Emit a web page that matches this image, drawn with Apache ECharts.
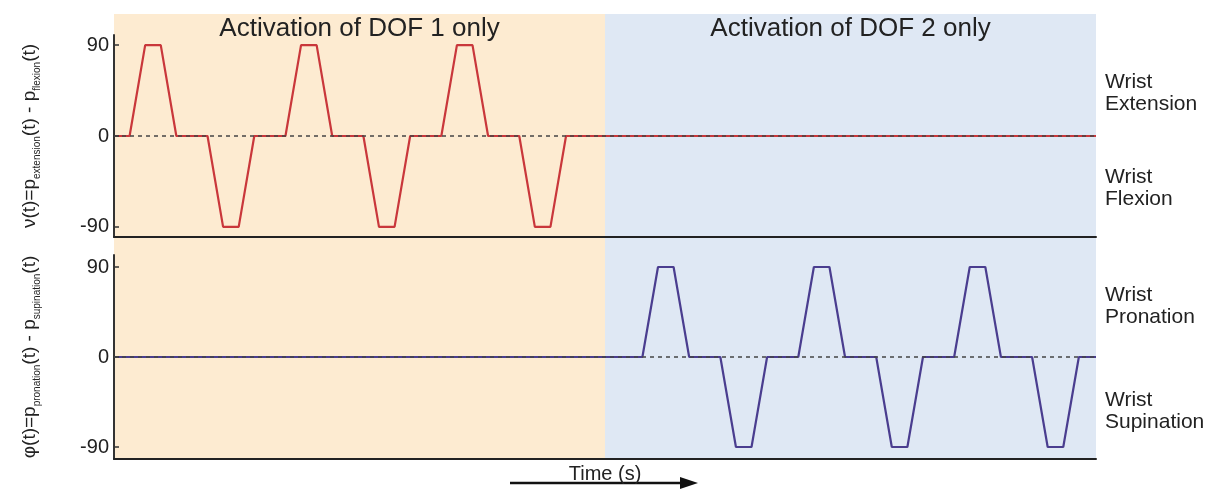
<!DOCTYPE html>
<html><head><meta charset="utf-8">
<script src="https://cdn.jsdelivr.net/npm/echarts@6/dist/echarts.min.js"></script>
<style>html,body{margin:0;padding:0;background:#fff}#c{width:1214px;height:489px}</style>
</head><body><div id="c"></div>
<script>
// ---- data ----
const timeMax = 63;
const phaseBounds = [0, 31.5, 63];
const phaseLabels = ['Activation of DOF 1 only', 'Activation of DOF 2 only'];
const phaseColors = ['#fdebd1', '#dfe8f4'];
const yTicks = [-90, 0, 90];
const dof1Time  = [0, 1, 2, 3, 4, 6, 7, 8, 9, 11, 12, 13, 14, 16, 17, 18, 19, 21, 22, 23, 24, 26, 27, 28, 29, 63];
const dof1Value = [0, 0, 90, 90, 0, 0, -90, -90, 0, 0, 90, 90, 0, 0, -90, -90, 0, 0, 90, 90, 0, 0, -90, -90, 0, 0];
const dof2Time  = [0, 33.9, 34.9, 35.9, 36.9, 38.9, 39.9, 40.9, 41.9, 43.9, 44.9, 45.9, 46.9, 48.9, 49.9, 50.9, 51.9, 53.9, 54.9, 55.9, 56.9, 58.9, 59.9, 60.9, 61.9, 63];
const dof2Value = [0, 0, 90, 90, 0, 0, -90, -90, 0, 0, 90, 90, 0, 0, -90, -90, 0, 0, 90, 90, 0, 0, -90, -90, 0, 0];
const rightLabelsTop = ['Wrist\nExtension', 'Wrist\nFlexion'];
const rightLabelsBottom = ['Wrist\nPronation', 'Wrist\nSupination'];
const xLabel = 'Time (s)';

const FF = '"Liberation Sans", Arial, sans-serif';
const zip = (a, b) => a.map((v, i) => [v, b[i]]);

const richName = {
  m: { fontSize: 19, fontFamily: FF, color: '#222', lineHeight: 24 },
  s: { fontSize: 10, fontFamily: FF, color: '#222', verticalAlign: 'bottom', lineHeight: 10 }
};

function yAxisFor(grid, lim, name) {
  return {
    gridIndex: grid, type: 'value', min: -lim, max: lim, z: 10,
    splitLine: { show: false },
    axisLine: { show: true, lineStyle: { color: '#333', width: 2 } },
    axisTick: { show: true, inside: true, length: 5, customValues: yTicks, lineStyle: { color: '#333', width: 1.5 } },
    axisLabel: { show: true, customValues: yTicks, margin: 5, fontSize: 20, fontFamily: FF, color: '#222' },
    name: name, nameLocation: 'middle', nameRotate: 90, nameGap: 72,
    nameTextStyle: { rich: richName }
  };
}
function xAxisFor(grid, show) {
  return {
    gridIndex: grid, type: 'value', min: 0, max: timeMax, z: 10,
    show: show,
    splitLine: { show: false },
    axisLine: { show: true, onZero: false, lineStyle: { color: '#222', width: 2 } },
    axisTick: { show: false }, axisLabel: { show: false }
  };
}
const zeroLine = {
  silent: true, symbol: 'none', z: 20, label: { show: false },
  lineStyle: { color: '#444', type: [4, 4], width: 1.5 },
  data: [{ yAxis: 0 }]
};

const option = {
  animation: false,
  backgroundColor: '#fff',
  grid: [
    { left: 114, right: 118, top: 14, bottom: 31 },
    { left: 114, right: 118, top: 35, height: 202 },
    { left: 114, right: 118, top: 255, height: 204 }
  ],
  xAxis: [
    xAxisFor(0, false),
    xAxisFor(1, true),
    Object.assign(xAxisFor(2, true), {
      name: xLabel, nameLocation: 'middle', nameGap: 5,
      nameTextStyle: { fontSize: 20, fontFamily: FF, color: '#222', verticalAlign: 'top' }
    })
  ],
  yAxis: [
    { gridIndex: 0, type: 'value', min: 0, max: 1, show: false },
    yAxisFor(1, 100, '{m|ν(t)=p}{s|extension}{m|(t) - p}{s|flexion}{m|(t)}'),
    yAxisFor(2, 102, '{m|φ(t)=p}{s|pronation}{m|(t) - p}{s|supination}{m|(t)}')
  ],
  series: [
    {
      type: 'line', xAxisIndex: 0, yAxisIndex: 0, data: [], silent: true, z: -10,
      markArea: {
        silent: true, z: -10,
        data: phaseLabels.map((lab, i) => [
          { xAxis: phaseBounds[i], name: lab, itemStyle: { color: phaseColors[i] } },
          { xAxis: phaseBounds[i + 1] }
        ]),
        label: { show: true, position: 'insideTop', distance: 2, fontSize: 26, fontFamily: FF, color: '#222' }
      }
    },
    {
      type: 'line', xAxisIndex: 1, yAxisIndex: 1, data: zip(dof1Time, dof1Value),
      symbol: 'none', lineStyle: { color: '#c9373b', width: 2.2 }, markLine: zeroLine
    },
    {
      type: 'line', xAxisIndex: 2, yAxisIndex: 2, data: zip(dof2Time, dof2Value),
      symbol: 'none', lineStyle: { color: '#4a3d8f', width: 2.2 }, markLine: zeroLine
    }
  ],
  graphic: [
    { type: 'text', left: 1105, top: 71, style: { text: rightLabelsTop[0], fontSize: 21, fontFamily: FF, fill: '#222', lineHeight: 22 } },
    { type: 'text', left: 1105, top: 166, style: { text: rightLabelsTop[1], fontSize: 21, fontFamily: FF, fill: '#222', lineHeight: 22 } },
    { type: 'text', left: 1105, top: 284, style: { text: rightLabelsBottom[0], fontSize: 21, fontFamily: FF, fill: '#222', lineHeight: 22 } },
    { type: 'text', left: 1105, top: 389, style: { text: rightLabelsBottom[1], fontSize: 21, fontFamily: FF, fill: '#222', lineHeight: 22 } },
    { type: 'polyline', shape: { points: [[510, 483], [684, 483]] }, style: { stroke: '#111', lineWidth: 2.5 } },
    { type: 'polygon', shape: { points: [[680, 477], [698, 483], [680, 489]] }, style: { fill: '#111' } }
  ]
};
echarts.init(document.getElementById('c')).setOption(option);
</script></body></html>
